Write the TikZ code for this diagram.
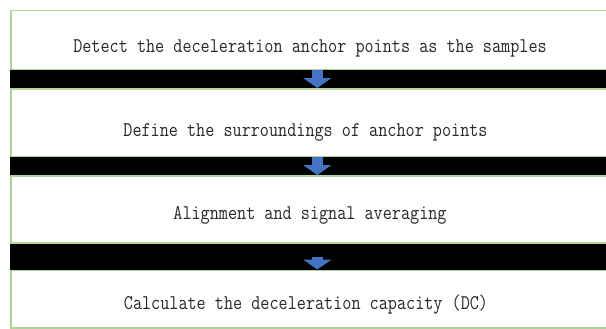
\documentclass[tikz,border=0pt]{standalone}
\usepackage{fontspec}
\usetikzlibrary{arrows.meta}

\definecolor{stepgreen}{RGB}{176,212,152}
\definecolor{arrowblue}{RGB}{68,114,196}
\definecolor{textgray}{RGB}{40,40,40}

\tikzset{
	stepbox/.style={draw=stepgreen, line width=1.6bp, anchor=north west, inner sep=0pt, minimum width=602bp},
	steptext/.style={anchor=base, inner sep=0pt, text=textgray, xscale=0.845, font=\ttfamily\fontsize{21}{22}\selectfont},
	flow/.style={draw=arrowblue, line width=11bp, -{Triangle[width=28bp, length=10bp, fill=arrowblue]}}
}

\begin{document}
\begin{tikzpicture}[x=1bp, y=-1bp]
		\useasboundingbox [fill=white] ( 0, 0 ) rectangle ( 606, 328 );

		% шаги
		\node [stepbox, minimum height=59bp] (s1) at ( 10, 9.5 ) {};
		\node [stepbox, minimum height=67.5bp] (s2) at ( 10, 88 ) {};
		\node [stepbox, minimum height=67bp] (s3) at ( 10, 175 ) {};
		\node [stepbox, minimum height=57.5bp] (s4) at ( 10, 269.5 ) {};

		% черные полосы между шагами
		\fill [black] (s1.south west) rectangle (s2.north east);
		\fill [black] (s2.south west) rectangle (s3.north east);
		\fill [black] (s3.south west) rectangle (s4.north east);

		% подписи
		\node [steptext] (l1) at ( 310, 52 ) {Detect the deceleration anchor points as the samples};
		\node [steptext] (l2) at ( 305.5, 136 ) {Define the surroundings of anchor points};
		\node [steptext] (l3) at ( 310, 219 ) {Alignment and signal averaging};
		\node [steptext] (l4) at ( 306, 309 ) {Calculate the deceleration capacity (DC)};

		% стрелки
		\draw [flow] ([xshift=5.5bp]s1.south) -- ([xshift=5.5bp]s2.north);
		\draw [flow] ([xshift=5.5bp]s2.south) -- ([xshift=5.5bp]s3.north);
		\draw [flow, shorten <=13bp] ([xshift=5.5bp]s3.south) -- ([xshift=5.5bp]s4.north);
	\end{tikzpicture}
\end{document}
